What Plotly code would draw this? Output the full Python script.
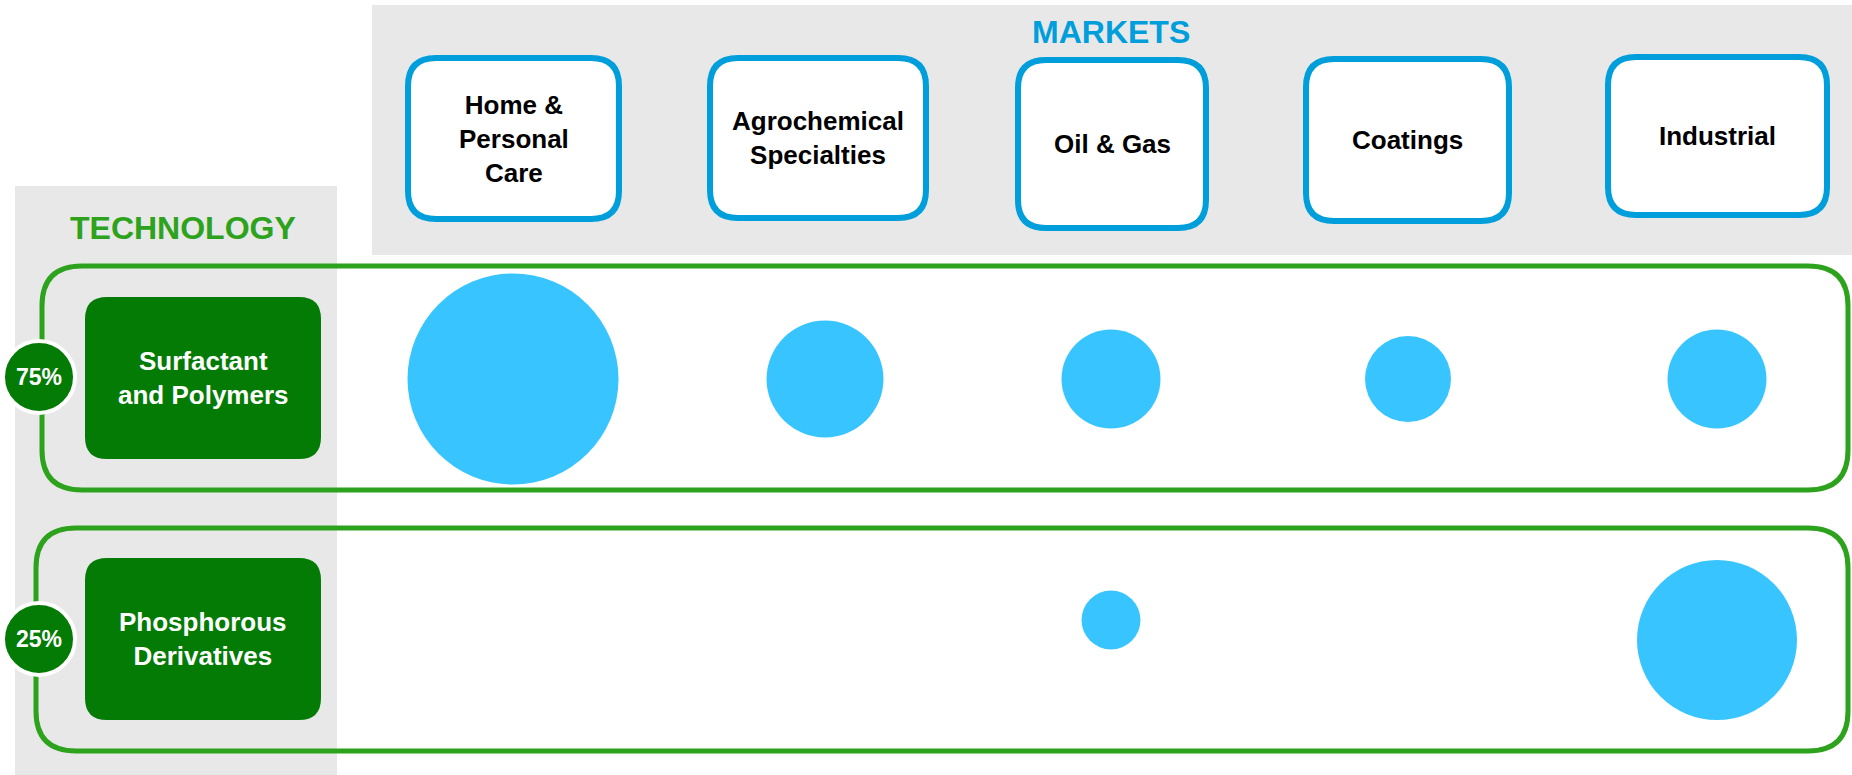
import plotly.graph_objects as go

# ---------------- data ----------------
markets = ["Home &<br>Personal<br>Care", "Agrochemical<br>Specialties", "Oil & Gas", "Coatings", "Industrial"]
technologies = ["Surfactant<br>and Polymers", "Phosphorous<br>Derivatives"]
tech_share = ["75%", "25%"]
# relative bubble size (area index) per technology x market, None = no presence
surfactant_values = [100, 30.7, 22.0, 16.6, 22.0]
phosphorous_values = [None, None, 7.8, None, 57.5]

# ---------------- layout geometry (pixels) ----------------
W, H = 1852, 775
FONT = "Arial, Liberation Sans, sans-serif"
BLUE = "#009EDB"
GREEN_LINE = "#2DA21C"
GREEN_BOX = "#037B05"
GRAY = "#E8E8E8"
BUBBLE = "#38C5FF"

market_boxes = [(408, 58, 619, 219), (710, 58, 926, 218), (1018, 60, 1206, 228),
                (1306, 59, 1509, 221), (1608, 57, 1827, 215)]
bubble_x = [513, 825, 1111, 1408, 1717]
row_y = [379, 639]
row2_y_offsets = [0, 0, -19, 0, 1]
row_outlines = [(42, 266, 1848, 490), (36, 528, 1848, 751)]
tech_boxes = [(85, 297, 321, 459), (85, 558, 321, 720)]
share_circles = [(39, 377), (39, 639)]


def rrect(x0, y0, x1, y1, r):
    return (f"M {x0+r},{y0} L {x1-r},{y0} Q {x1},{y0} {x1},{y0+r} "
            f"L {x1},{y1-r} Q {x1},{y1} {x1-r},{y1} L {x0+r},{y1} "
            f"Q {x0},{y1} {x0},{y1-r} L {x0},{y0+r} Q {x0},{y0} {x0+r},{y0} Z")


shapes = []
annotations = []
# gray panels
shapes.append(dict(type="rect", x0=372, y0=5, x1=W, y1=255, fillcolor=GRAY, line=dict(width=0), layer="below"))
shapes.append(dict(type="rect", x0=15, y0=186, x1=337, y1=H, fillcolor=GRAY, line=dict(width=0), layer="below"))

# row outlines
for (x0, y0, x1, y1) in row_outlines:
    shapes.append(dict(type="path", path=rrect(x0, y0, x1, y1, 40), fillcolor="rgba(0,0,0,0)",
                       line=dict(color=GREEN_LINE, width=5), layer="below"))

# market boxes + labels
for (x0, y0, x1, y1), name in zip(market_boxes, markets):
    shapes.append(dict(type="path", path=rrect(x0, y0, x1, y1, 28), fillcolor="white",
                       line=dict(color=BLUE, width=6), layer="below"))
    annotations.append(dict(x=(x0 + x1) / 2, y=(y0 + y1) / 2, xref="x", yref="y", text=f"<b>{name}</b>",
                            showarrow=False, font=dict(family=FONT, size=26, color="black"),
                            xanchor="center", yanchor="middle"))

# technology boxes + share circles
for (x0, y0, x1, y1), name in zip(tech_boxes, technologies):
    shapes.append(dict(type="path", path=rrect(x0, y0, x1, y1, 22), fillcolor=GREEN_BOX,
                       line=dict(width=0), layer="below"))
    annotations.append(dict(x=(x0 + x1) / 2, y=(y0 + y1) / 2, xref="x", yref="y", text=f"<b>{name}</b>",
                            showarrow=False, font=dict(family=FONT, size=26, color="white"),
                            xanchor="center", yanchor="middle"))

for (cx, cy), share in zip(share_circles, tech_share):
    r = 36
    shapes.append(dict(type="circle", x0=cx - r, y0=cy - r, x1=cx + r, y1=cy + r, fillcolor=GREEN_BOX,
                       line=dict(color="white", width=4), layer="below"))
    annotations.append(dict(x=cx, y=cy, xref="x", yref="y", text=f"<b>{share}</b>", showarrow=False,
                            font=dict(family=FONT, size=23, color="white"), xanchor="center", yanchor="middle"))

# section titles
annotations.append(dict(x=1111, y=32, xref="x", yref="y", text="<b>MARKETS</b>", showarrow=False,
                        font=dict(family=FONT, size=32, color=BLUE), xanchor="center", yanchor="middle"))
annotations.append(dict(x=183, y=228, xref="x", yref="y", text="<b>TECHNOLOGY</b>", showarrow=False,
                        font=dict(family=FONT, size=32, color=GREEN_LINE), xanchor="center", yanchor="middle"))

# ---------------- bubbles ----------------
max_val = max(v for v in surfactant_values + phosphorous_values if v is not None)
sizeref = 2.0 * max_val / (211 ** 2)

fig = go.Figure()
for ti, vals in enumerate([surfactant_values, phosphorous_values]):
    xs, ys, ss = [], [], []
    for mi, v in enumerate(vals):
        if v is None:
            continue
        xs.append(bubble_x[mi])
        ys.append(row_y[ti] + (row2_y_offsets[mi] if ti == 1 else 0))
        ss.append(v)
    fig.add_trace(go.Scatter(
        x=xs, y=ys, mode="markers",
        marker=dict(size=ss, sizemode="area", sizeref=sizeref, color=BUBBLE, line=dict(width=0), opacity=1),
        hoverinfo="skip", showlegend=False,
        name=technologies[ti].replace("<br>", " "),
    ))

fig.update_layout(
    width=W, height=H,
    margin=dict(l=0, r=0, t=0, b=0, pad=0),
    paper_bgcolor="white", plot_bgcolor="rgba(0,0,0,0)",
    xaxis=dict(range=[0, W], visible=False, fixedrange=True),
    yaxis=dict(range=[H, 0], visible=False, fixedrange=True),
    shapes=shapes, annotations=annotations,
    showlegend=False,
)

fig.write_html("out.html", config={"displayModeBar": False})
